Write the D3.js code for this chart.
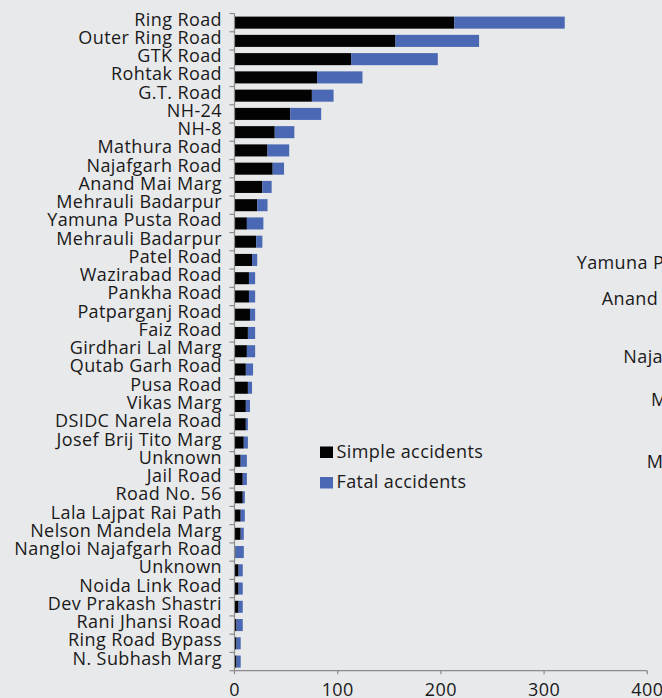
<!DOCTYPE html>
<html>
<head>
<meta charset="utf-8">
<script src="https://cdn.jsdelivr.net/npm/d3@7"></script>
<style>
  body { margin: 0; background: #e8e9eb; }
  text { font-family: "Open Sans", sans-serif; fill: #1a1a1a; font-size: 18px; letter-spacing: 0.4px; }
</style>
</head>
<body>
<div class="chart"></div>
<script>
var svgWidth = 662;
var svgHeight = 698;

// road names, top to bottom
var roads = ["Ring Road", "Outer Ring Road", "GTK Road", "Rohtak Road", "G.T. Road", "NH-24", "NH-8",
  "Mathura Road", "Najafgarh Road", "Anand Mai Marg", "Mehrauli Badarpur", "Yamuna Pusta Road",
  "Mehrauli Badarpur", "Patel Road", "Wazirabad Road", "Pankha Road", "Patparganj Road", "Faiz Road",
  "Girdhari Lal Marg", "Qutab Garh Road", "Pusa Road", "Vikas Marg", "DSIDC Narela Road",
  "Josef Brij Tito Marg", "Unknown", "Jail Road", "Road No. 56", "Lala Lajpat Rai Path",
  "Nelson Mandela Marg", "Nangloi Najafgarh Road", "Unknown", "Noida Link Road", "Dev Prakash Shastri",
  "Rani Jhansi Road", "Ring Road Bypass", "N. Subhash Marg"];

var simple = [213, 156, 113, 80, 75, 54, 39, 32, 37, 27, 22, 12, 21, 17, 14, 14, 15, 13, 12, 11, 13, 11, 11, 9,
  6, 8, 8, 6, 6, 1, 4, 4, 4, 2, 2, 2];
var fatal = [107, 81, 84, 44, 21, 30, 19, 21, 11, 9, 10, 16, 6, 5, 6, 6, 5, 7, 8, 7, 4, 4, 2, 4,
  6, 4, 2, 4, 3, 8, 4, 4, 4, 6, 4, 4];

var seriesNames = ["Simple accidents", "Fatal accidents"];
var seriesColors = ["#030303", "#4a68b3"];
var xTicks = [0, 100, 200, 300, 400];

// labels of the neighbouring panel, clipped by the right edge
var sideLabels = ["Yamuna P", "Anand", "Naja", "M", "M"];

var svg = d3.select(".chart")
  .append("svg")
  .attr("width", svgWidth)
  .attr("height", svgHeight);

svg.append("rect")
  .attr("width", svgWidth)
  .attr("height", svgHeight)
  .attr("fill", "#e8e9eb");

var xScale = d3.scaleLinear().domain([0, 400]).range([234.5, 647.3]);

// one band per row, keyed by index since "Unknown" and "Mehrauli Badarpur" repeat
var yTop = 13.5, yBottom = 670.7;
var yScale = d3.scaleBand()
  .domain(d3.range(roads.length))
  .range([yTop, yBottom])
  .paddingInner(0.34)
  .paddingOuter(0.17);

var rows = roads.map(function(name, i) {
  return { name: name, simple: simple[i], fatal: fatal[i], idx: i };
});

var layers = d3.stack().keys(["simple", "fatal"])(rows);

svg.selectAll("g.layer")
  .data(layers)
  .enter()
  .append("g")
  .attr("class", "layer")
  .attr("fill", function(d, i) { return seriesColors[i]; })
  .selectAll("rect")
  .data(function(d) { return d; })
  .enter()
  .append("rect")
  .attr("x", function(d) { return xScale(d[0]); })
  .attr("width", function(d) { return xScale(d[1]) - xScale(d[0]); })
  .attr("y", function(d) { return yScale(d.data.idx); })
  .attr("height", yScale.bandwidth());

// y axis: line, ticks on band boundaries, labels
var axisColor = "#8c8c8c";

svg.append("line")
  .attr("x1", xScale(0)).attr("x2", xScale(0))
  .attr("y1", yTop).attr("y2", yBottom)
  .attr("stroke", axisColor).attr("stroke-width", 1.2);

svg.selectAll("line.ytick")
  .data(d3.range(roads.length + 1))
  .enter()
  .append("line")
  .attr("class", "ytick")
  .attr("x1", xScale(0) - 5).attr("x2", xScale(0))
  .attr("y1", function(d) { return yTop + d * (yBottom - yTop) / roads.length; })
  .attr("y2", function(d) { return yTop + d * (yBottom - yTop) / roads.length; })
  .attr("stroke", axisColor).attr("stroke-width", 1.2);

svg.selectAll("text.ylabel")
  .data(rows)
  .enter()
  .append("text")
  .attr("class", "ylabel")
  .attr("x", 222)
  .attr("y", function(d) { return yScale(d.idx) + yScale.bandwidth() / 2; })
  .attr("dy", 3)
  .attr("text-anchor", "end")
  .text(function(d) { return d.name; });

// x axis
svg.append("line")
  .attr("x1", xScale(0)).attr("x2", xScale(400))
  .attr("y1", yBottom).attr("y2", yBottom)
  .attr("stroke", axisColor).attr("stroke-width", 1.2);

svg.selectAll("line.xtick")
  .data(xTicks)
  .enter()
  .append("line")
  .attr("class", "xtick")
  .attr("x1", function(d) { return xScale(d); })
  .attr("x2", function(d) { return xScale(d); })
  .attr("y1", yBottom).attr("y2", yBottom + 3.5)
  .attr("stroke", axisColor).attr("stroke-width", 1.2);

svg.selectAll("text.xlabel")
  .data(xTicks)
  .enter()
  .append("text")
  .attr("class", "xlabel")
  .attr("x", function(d) { return xScale(d); })
  .attr("y", 696)
  .attr("text-anchor", "middle")
  .text(function(d) { return d; });

// legend
var legend = svg.selectAll("g.legend")
  .data(seriesNames)
  .enter()
  .append("g")
  .attr("class", "legend")
  .attr("transform", function(d, i) { return "translate(320," + (446.5 + i * 30.5) + ")"; });

legend.append("rect")
  .attr("width", 13).attr("height", 11.5)
  .attr("fill", function(d, i) { return seriesColors[i]; });

legend.append("text")
  .attr("x", 16.5).attr("y", 11)
  .text(function(d) { return d; });

// cut-off labels from the next chart
var sidePos = [[576.7, 269], [601.7, 305], [623.3, 363], [651, 406], [646.7, 468]];
svg.selectAll("text.side")
  .data(sideLabels)
  .enter()
  .append("text")
  .attr("class", "side")
  .attr("x", function(d, i) { return sidePos[i][0]; })
  .attr("y", function(d, i) { return sidePos[i][1]; })
  .text(function(d) { return d; });
</script>
</body>
</html>
